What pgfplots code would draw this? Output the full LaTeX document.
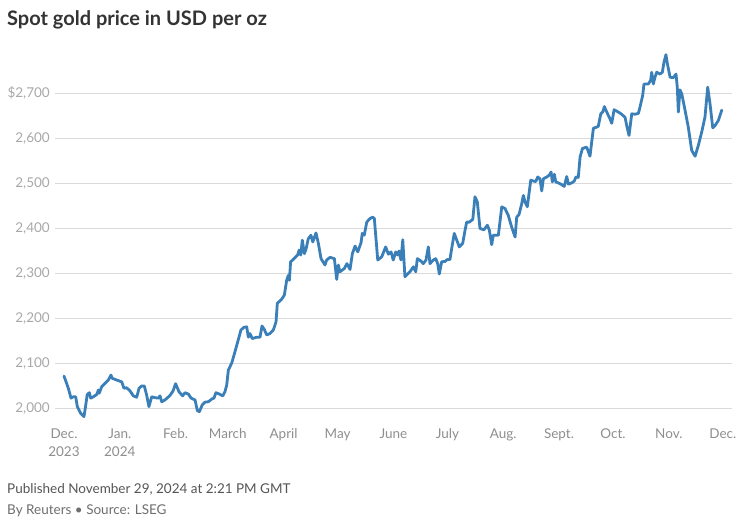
\documentclass[border=0pt]{standalone}
\usepackage{fontspec}
\setmainfont{Lato}
\usepackage{pgfplots}
\pgfplotsset{compat=1.18}
\usetikzlibrary{calc}
\definecolor{goldline}{HTML}{3A7FB8}
\definecolor{gridc}{HTML}{DADADA}
\definecolor{ytickc}{HTML}{A8A8A8}
\definecolor{xtickc}{HTML}{8E8E8E}
\definecolor{titlec}{HTML}{333333}
\definecolor{footc}{HTML}{555555}

% x = days since 1 Dec 2023, y = USD per oz
\begin{document}
\begin{tikzpicture}[x=1pt,y=1pt]
\begin{axis}[
    scale only axis,
    width=677pt, height=374.6pt,
    xmin=-5, xmax=371.1, ymin=1970, ymax=2800,
    axis line style={draw=none},
    major tick length=0pt,
    ymajorgrids,
    grid style={gridc, line width=1pt},
    ytick={2000,2100,2200,2300,2400,2500,2600,2700},
    yticklabels={{2,000},{2,100},{2,200},{2,300},{2,400},{2,500},{2,600},{\$2,700}},
    yticklabel style={font=\fontsize{13.5}{16}\selectfont, text=ytickc, inner sep=0pt, xshift=-5pt},
    xtick={0,31,62,91,122,152,183,213,244,275,305,336,366},
    xticklabels={{Dec.\\2023},{Jan.\\2024},Feb.,March,April,May,June,July,Aug.,Sept.,Oct.,Nov.,Dec.},
    xticklabel style={font=\fontsize{13.5}{18}\selectfont, text=xtickc, align=center, inner sep=0pt, yshift=-6pt},
]
\coordinate (bl) at (rel axis cs:0,0);
\addplot[goldline, line width=2.8pt, line join=round, line cap=round] coordinates {
(0,2073) (2.4,2046) (3.9,2024) (5.2,2027) (6.5,2027) (7.4,2005) (9.3,1990) (11.1,1983)
(12.1,2009) (12.9,2032) (14.1,2036) (14.8,2024) (16.3,2027) (18.2,2032) (19.1,2042) (19.6,2035)
(20.9,2049) (22.8,2057) (24.6,2064) (26.1,2075) (26.8,2068) (29.3,2064) (32.1,2060) (33.3,2046)
(34.8,2047) (36.7,2040) (38.5,2029) (40.4,2026) (41.7,2046) (43.2,2051) (44.6,2051) (45.9,2031)
(47.2,2005) (48.7,2027) (50.6,2025) (52.4,2024) (53.3,2029) (54.3,2016) (56.1,2020) (58.9,2030)
(60.6,2040) (62,2056) (63.9,2038) (65.9,2029) (67.2,2036) (69.1,2033) (70.6,2024) (72.8,2020)
(74.1,1996) (75.2,1994) (76.8,2009) (78.3,2015) (80.2,2016) (82.1,2022) (83.3,2024) (84.4,2036)
(86.3,2033) (88.2,2029) (89.4,2038) (90.4,2053) (91.3,2086) (93.2,2102) (95,2127) (96.8,2153)
(98.3,2175) (100,2181) (101.5,2182) (102.4,2159) (103.3,2167) (104.6,2156) (107.1,2159) (108.9,2159)
(110,2184) (111.3,2176) (112.6,2164) (114.4,2167) (116.3,2175) (117.8,2193) (118.5,2234) (120.9,2243)
(122.4,2252) (123.7,2285) (124.6,2296) (125.2,2285) (125.9,2326) (127.8,2333) (129.8,2341) (130.6,2352)
(131.5,2341) (132.4,2374) (133.5,2344) (134.4,2353) (135.7,2377) (137.2,2385) (138.2,2370) (140,2390)
(141.3,2367) (142.8,2333) (145,2319) (145.9,2330) (147.8,2336) (150.2,2333) (151.5,2287) (152.4,2319)
(153.3,2304) (155.7,2311) (157.2,2322) (158.9,2309) (160.2,2344) (161.7,2361) (163.2,2348) (165,2368)
(165.7,2389) (166.8,2385) (168.2,2414) (170,2422) (171.5,2425) (172.4,2422) (174.3,2330) (176.5,2337)
(178.7,2359) (180.2,2343) (181.7,2348) (182.9,2330) (184.3,2348) (185.4,2341) (186.1,2350) (187.2,2330)
(188.2,2375) (189.4,2293) (192.2,2304) (194.1,2315) (195.4,2304) (196.3,2333) (198.2,2328) (199.6,2322)
(201.1,2330) (202.4,2359) (203.3,2322) (205.2,2330) (206.5,2333) (207.6,2322) (208.5,2299) (209.8,2326)
(211.7,2327) (212.9,2331) (214.4,2331) (215.4,2356) (216.8,2389) (218.2,2374) (219.6,2359) (221.5,2367)
(222.8,2396) (223.7,2414) (225.2,2414) (227.1,2420) (228.3,2470) (229.6,2459) (231.1,2400) (233.3,2397)
(235.2,2407) (236.3,2396) (237.6,2364) (238.5,2385) (241.3,2385) (243.2,2448) (245,2444) (246.8,2429)
(248.7,2403) (250.6,2381) (251.5,2425) (252.8,2431) (254.3,2455) (255.2,2473) (256.1,2459) (257.4,2448)
(259.3,2507) (260.7,2505) (262.1,2504) (263.2,2514) (264.4,2510) (265.4,2483) (266.3,2510) (268.2,2514)
(269.6,2518) (270.6,2525) (271.3,2503) (272.4,2520) (273.2,2503) (274.6,2501) (276.5,2497) (277.9,2493)
(279.3,2515) (280.2,2498) (282.1,2501) (283.5,2505) (284.4,2514) (285.7,2513) (286.7,2558) (288,2577)
(289.4,2579) (290.4,2580) (292.2,2560) (294.1,2622) (295.6,2624) (296.8,2626) (298.2,2654) (299.3,2658)
(300.2,2670) (301.5,2658) (303.3,2643) (304.3,2633) (305.6,2663) (307.9,2658) (309.8,2653) (311.7,2646)
(312.6,2628) (313.9,2606) (315.4,2654) (317.2,2653) (319.1,2655) (320,2669) (321.5,2695) (322.2,2720)
(324.6,2720) (325.9,2728) (326.5,2746) (327.4,2720) (328.3,2735) (329.3,2746) (331.1,2742) (332.4,2746)
(333.3,2768) (334.4,2785) (335.2,2765) (336.7,2735) (338.5,2734) (340,2742) (340.7,2713) (341.3,2658)
(342.2,2707) (343.2,2698) (345,2662) (346.8,2625) (348.7,2573) (350.6,2560) (352.4,2584) (354.3,2614)
(356.1,2647) (357.6,2713) (358.9,2676) (360.4,2623) (361.7,2628) (363.5,2639) (365.4,2662)
};
\end{axis}
\coordinate (o) at ($(bl)+(-55,-99.5)$);
\path (o) rectangle ($(o)+(745,522)$);
\node[anchor=west, inner sep=0pt, text=titlec, font=\fontsize{20}{24}\selectfont\bfseries] at ($(o)+(7,502)$) {Spot gold price in USD per oz};
\node[anchor=west, inner sep=0pt, text=footc, font=\fontsize{13.5}{16}\selectfont] at ($(o)+(7,33)$) {Published November 29, 2024 at 2:21 PM GMT};
\node[anchor=west, inner sep=0pt, text=footc!85, font=\fontsize{13.5}{16}\selectfont] at ($(o)+(7,11)$) {By Reuters • Source: LSEG};
\end{tikzpicture}
\end{document}
